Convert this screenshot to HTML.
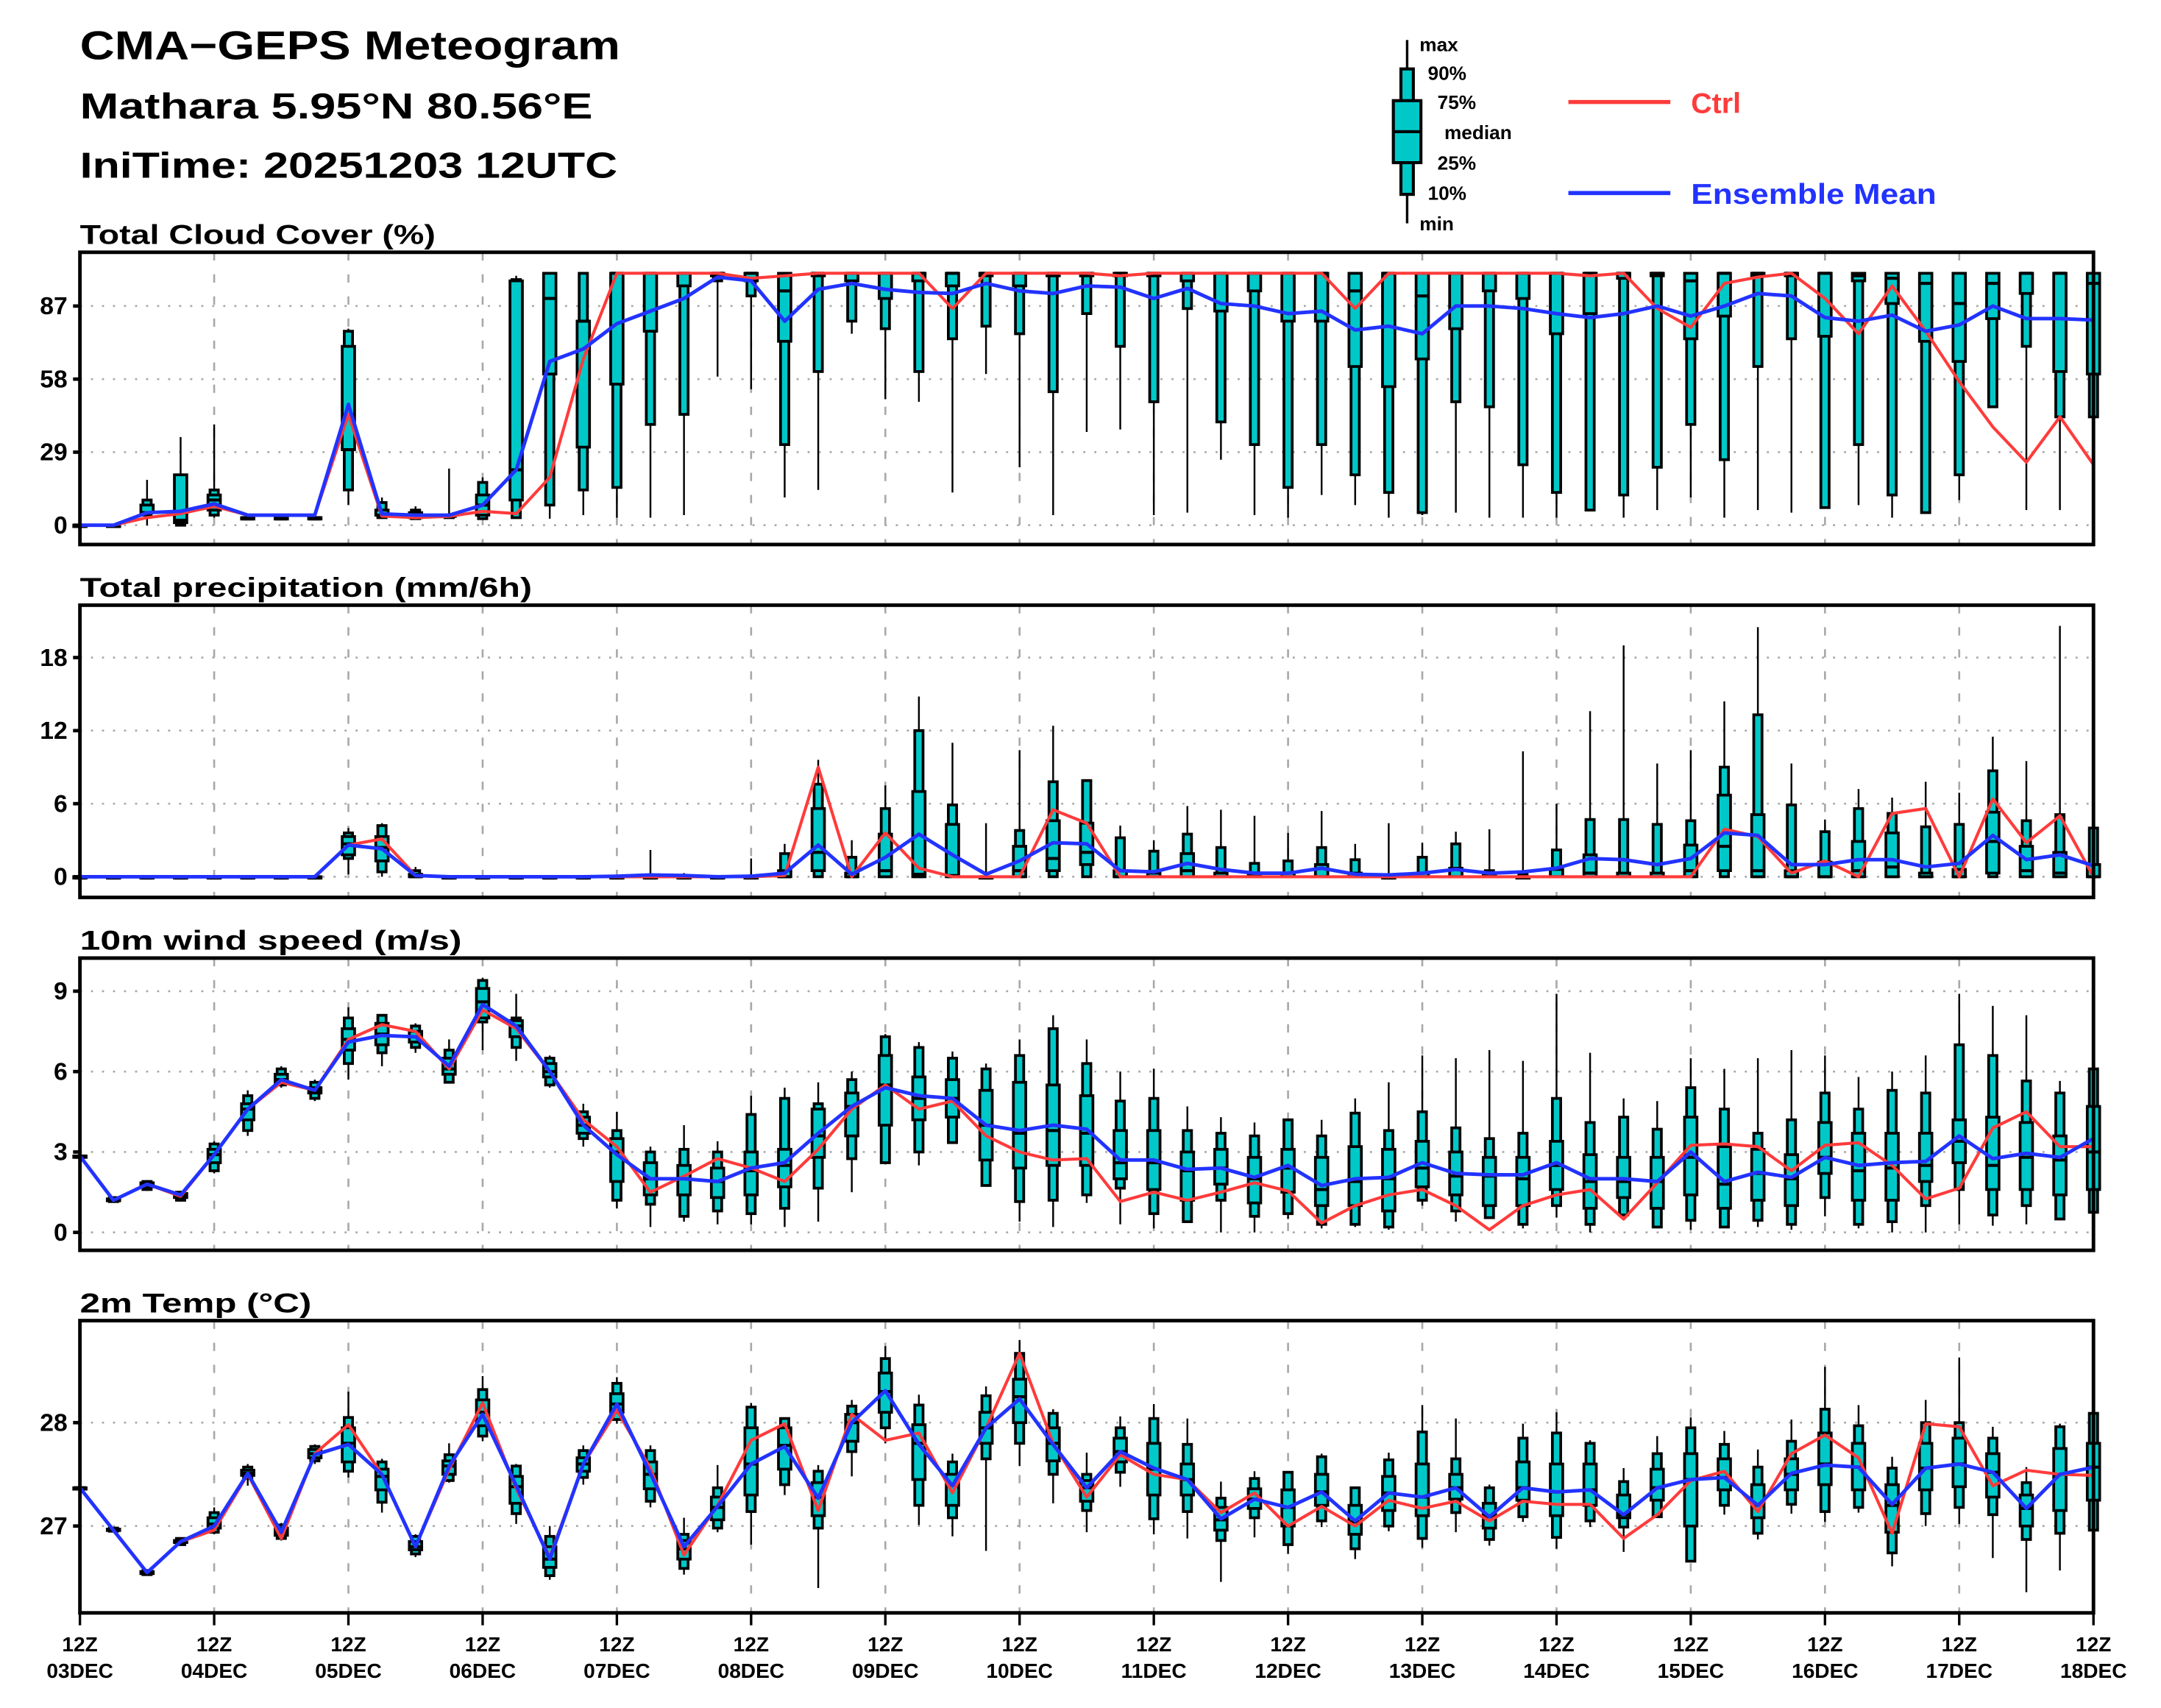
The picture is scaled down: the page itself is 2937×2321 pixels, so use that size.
<!DOCTYPE html>
<html><head><meta charset="utf-8"><title>CMA-GEPS Meteogram</title>
<style>html,body{margin:0;padding:0;background:#fff}svg{display:block}text{font-family:"Liberation Sans",sans-serif;font-weight:bold}</style>
</head><body>
<svg id="chart" xmlns="http://www.w3.org/2000/svg" width="2937" height="2321" viewBox="0 0 1568 1239" preserveAspectRatio="none">
<rect x="0" y="0" width="1568" height="1239" fill="#fff"/>
<g>
<text x="58" y="43" font-size="29" font-weight="normal" textLength="392" lengthAdjust="spacingAndGlyphs">CMA−GEPS Meteogram</text>
<text x="58" y="86" font-size="26" font-weight="normal" textLength="372" lengthAdjust="spacingAndGlyphs">Mathara 5.95°N 80.56°E</text>
<text x="58" y="129" font-size="26" font-weight="normal" textLength="390" lengthAdjust="spacingAndGlyphs">IniTime: 20251203 12UTC</text>
</g>
<g>
<line x1="1021" y1="29" x2="1021" y2="162" stroke="#000" stroke-width="1.8"/>
<rect x="1016.5" y="50" width="9" height="91" fill="#00c8c8" stroke="#000" stroke-width="2.2"/>
<rect x="1011" y="73" width="20" height="45" fill="#00c8c8" stroke="#000" stroke-width="2.2"/>
<line x1="1011" y1="95.5" x2="1031" y2="95.5" stroke="#000" stroke-width="2.2"/>
<g font-size="14">
<text x="1030" y="37">max</text>
<text x="1036" y="58">90%</text>
<text x="1043" y="79">75%</text>
<text x="1048" y="101">median</text>
<text x="1043" y="123">25%</text>
<text x="1036" y="145">10%</text>
<text x="1030" y="167">min</text>
</g>
<line x1="1138" y1="74" x2="1212" y2="74" stroke="#ff3b3b" stroke-width="3"/>
<text x="1227" y="82" font-size="21" font-weight="normal" fill="#ff3b3b">Ctrl</text>
<line x1="1138" y1="140" x2="1212" y2="140" stroke="#2233ff" stroke-width="3"/>
<text x="1227" y="148" font-size="21" font-weight="normal" fill="#2233ff" textLength="178" lengthAdjust="spacingAndGlyphs">Ensemble Mean</text>
</g>
<g id="panels"></g>
</svg>
<script>
const NS = "http://www.w3.org/2000/svg";
const dayLabels = ["03DEC","04DEC","05DEC","06DEC","07DEC","08DEC","09DEC","10DEC","11DEC","12DEC","13DEC","14DEC","15DEC","16DEC","17DEC","18DEC"];

// ---- Panel 1: Total Cloud Cover (%) ----
const cloudTicks = [0,29,58,87];
const cloudMin = [0,0,0,0,3,3,3,3,8,3,2.6,3,2.6,3,2.6,4,3,3,4,59,54,11,14,76,50,49,13,60,23,4,37,38,4,5,26,4,3,12,8,3,4,5,3,3,3,6,3,6,11,3,6,5,7,8,3,5,10,47,6,6,43];
const cloudP10 = [0,0,4,0,4,3,3,3,14,3,2.6,3,2.6,3,8,14,15,40,44,97,91,32,61,81,78,61,74,79,76,53,84,71,49,86,41,32,15,32,20,13,5,49,47,24,13,6,12,23,40,26,63,74,7,32,12,5,20,47,71,43,43];
const cloudP25 = [0,0,5,1,6,3,3,3,30,4,3,3.5,4,10,60,31,56,77,95,99,97,73,99,97,90,97,95,99,95,99,99,99,99,97,85,93,81,81,63,55,66,78,93,90,76,84,98,99,74,83,99,99,75,97,88,73,65,82,92,61,60];
const cloudMed = [0,0,5,2,10,3,3,3,30,4,3,3.5,8,22,90,81,100,100,100,100,100,93,100,100,100,100,100,100,100,100,100,100,100,100,100,100,100,100,93,100,91,100,100,100,100,100,100,100,97,100,100,100,100,99,98,96,88,96,100,100,96];
const cloudP75 = [0,0,8,20,12,3,3,3,71,6,5,4,12,97,100,81,100,100,100,100,100,100,100,100,100,100,100,100,100,100,100,100,100,100,100,100,100,100,100,100,100,100,100,100,100,100,100,100,100,100,100,100,100,100,100,100,100,100,100,100,100];
const cloudP90 = [0,0,10,20,14,3,3,3,77,9,6,4,17,97.5,100,100,100,100,100,100,100,100,100,100,100,100,100,100,100,100,100,100,100,100,100,100,100,100,100,100,100,100,100,100,100,100,100,100,100,100,100,100,100,100,100,100,100,100,100,100,100];
const cloudMax = [0,0,18,35,40,4,4,4,78,11,7.5,22.5,19,99,100,100,100,100,100,100,100,100,100,100,100,100,100,100,100,100,100,100,100,100,100,100,100,100,100,100,100,100,100,100,100,100,100,100,100,100,100,100,100,100,100,100,100,100,100,100,100];
const cloudCtrl = [0,0,3,4.6,7.5,4,4,4,44,3.6,3,3.5,5.5,4.6,19,66,100,100,100,100,98,99,100,100,100,100,86,100,100,100,100,99,100,100,100,100,100,100,86,100,100,100,100,100,100,99,100,86,78.5,96,98.5,100,90,76,95,77,57,39,25,43,24];
const cloudMean = [0,0,5,5.5,8.5,4,4,4,48,4.5,4,4,8,22,65,70,80,85,90,98.5,97,81,93.6,96,93.6,92.4,92,96,93,92,95,94.5,90,94,88,87,84,85,77.5,79,76,87,87,86,84,82.4,84,87,83,87,92,91,82.4,81,83.4,77,79.5,87,82,82,81.4];

// ---- Panel 2: Total precipitation (mm/6h) ----
const precipTicks = [0,6,12,18];
const precipMin = [0,0,0,0,0,0,0,0,0.2,0,0,0,0,0,0,0,0,0,0,0,0,0,0,0,0,0,0,0,0,0,0,0,0,0,0,0,0,0,0,0,0,0,0,0,0,0,0,0,0,0,0,0,0,0,0,0,0,0,0,0,0];
const precipP10 = [0,0,0,0,0,0,0,0,1.5,0.4,0,0,0,0,0,0,0,0,0,0,0,0,0,0,0,0,0,0,0,0,0,0,0,0,0,0,0,0,0,0,0,0,0,0,0,0,0,0,0,0,0,0,0,0,0,0,0,0,0,0,0];
const precipP25 = [0,0,0,0,0,0,0,0,1.8,1.3,0,0,0,0,0,0,0,0,0,0,0,0,0.5,0,0,0,0,0,0,0.5,1,0,0,0,0,0,0,0,0,0,0,0,0,0,0,0,0,0,0,0.5,0,0,0,0,0,0,0,0.3,0,0,0];
const precipMed = [0,0,0,0,0,0,0,0,2.7,2.4,0,0,0,0,0,0,0,0,0,0,0,0,2,0,0.5,0.2,0.1,0,0.5,1.5,2,0,0,0.5,0,0,0,0,0,0,0,0,0,0,0,0.3,0,0,0.5,2.5,0.5,0,0,0.5,0.8,0,0,2.9,0.5,0.3,0];
const precipP75 = [0,0,0,0,0,0,0,0,3.3,3.3,0.2,0,0,0,0,0,0,0,0,0,0,0.5,5.6,0.3,3.5,7,4.3,0,2.5,4.6,4.4,0.5,0.3,1.9,0.3,0.2,0.3,1,0.3,0,0.3,0.7,0.1,0,0.6,1.8,0.3,0.3,2.6,6.7,5.1,0.5,1.2,2.9,3.6,0.3,0.6,5.3,2.5,2,1];
const precipP90 = [0,0,0,0,0,0,0,0,3.6,4.2,0.5,0,0,0,0,0,0,0,0,0,0,1.9,7.6,1.6,5.6,12,5.9,0,3.8,7.8,7.9,3.2,2.1,3.5,2.4,1.1,1.3,2.4,1.4,0,1.6,2.7,0.5,0.2,2.2,4.7,4.7,4.3,4.6,9,13.3,5.9,3.7,5.6,5.2,4.1,4.3,8.7,4.6,5.1,4];
const precipMax = [0,0,0,0,0,0,0,0,4,4.4,0.8,0,0,0,0,0,0,2.2,0.3,0,1.5,2.7,9.6,3,7.5,14.8,11,4.4,10.4,12.4,7.9,4.2,3,5.8,5.5,5,3.6,5.4,2.7,4.4,2.8,3.7,3.9,10.3,6,13.6,19,9.3,10.4,14.4,20.5,9.3,4.7,7.2,6.5,7.8,6.9,11.5,9.5,20.6,4];
const precipCtrl = [0,0,0,0,0,0,0,0,2.6,3.1,0.1,0,0,0,0,0,0,0,0,0,0,0.1,9,0,3.6,0.7,0,0,0,5.5,4.4,0,0,0,0,0,0,0,0,0,0,0,0,0,0,0,0,0,0,3.9,3.3,0.3,1.3,0,5.2,5.6,0,6.4,2.8,5,0];
const precipMean = [0,0,0,0,0,0,0,0,2.6,2.3,0.1,0,0,0,0,0,0.05,0.15,0.1,0,0.05,0.3,2.6,0.2,1.6,3.5,1.8,0.2,1.3,2.8,2.7,0.5,0.4,1.1,0.6,0.3,0.3,0.7,0.2,0.15,0.3,0.6,0.3,0.4,0.7,1.5,1.4,1.0,1.5,3.6,3.4,1.0,1.0,1.4,1.4,0.8,1.1,3.4,1.4,1.8,0.9];

// ---- Panel 3: 10m wind speed (m/s) ----
const windTicks = [0,3,6,9];
const windMin = [2.85,1.1,1.55,1.15,2.2,3.6,5.4,4.9,5.7,6.2,6.7,5.6,6.8,6.4,5.4,3.2,0.9,0.2,0.4,0.3,0.3,0.2,0.4,1.5,2.6,2.5,3.35,1.75,0.4,0.2,1.1,0.3,0.15,0.4,0,0,0.5,0.15,0.2,0.1,1.0,0.4,0.55,0.15,0.55,0,0.65,0.15,0.1,0.2,0.2,0.1,0.6,0.15,0,0,0.3,0.25,0.3,0.45,0.75];
const windP10 = [2.85,1.15,1.6,1.2,2.3,3.8,5.5,5.0,6.3,6.7,6.9,5.6,7.85,6.9,5.5,3.5,1.2,1.05,0.6,0.8,0.7,0.9,1.65,2.75,2.6,3.0,3.35,1.75,1.15,1.2,1.4,1.65,0.7,0.4,1.2,0.6,0.7,0.3,0.3,0.2,1.2,0.8,0.55,0.3,1.0,0.3,0.65,0.2,0.45,0.2,0.45,0.3,1.3,0.3,0.4,1.0,1.6,0.65,1.0,0.5,0.75];
const windP25 = [2.85,1.18,1.7,1.3,2.6,4.2,5.6,5.2,6.8,7.0,7.1,5.9,8.0,7.3,5.8,3.7,1.9,1.4,1.4,1.3,1.4,1.7,2.8,3.6,4.0,4.2,4.3,2.7,2.4,2.5,2.5,2.0,1.6,1.2,1.8,1.1,1.5,1.0,1.0,0.8,1.7,1.4,1.0,1.0,1.6,0.9,1.3,0.9,1.4,0.9,1.2,1.0,2.2,1.2,1.2,1.9,2.6,1.6,1.6,1.4,1.6];
const windMed = [2.85,1.2,1.8,1.4,2.9,4.6,5.7,5.3,7.2,7.4,7.3,6.1,8.6,7.7,6.0,4.0,3.0,2.0,2.0,1.9,2.3,2.5,3.6,4.7,5.5,5.0,5.0,4.0,3.7,3.8,3.7,2.6,2.6,2.3,2.4,2.0,2.4,1.6,1.9,2.0,2.4,2.1,2.1,2.0,2.5,1.9,1.9,1.9,2.8,1.8,2.2,2.0,2.8,2.3,2.4,2.5,3.4,2.5,2.8,2.7,3.0];
const windP75 = [2.85,1.25,1.85,1.45,3.1,4.8,5.9,5.4,7.6,7.8,7.5,6.5,9.1,7.9,6.3,4.3,3.5,2.6,2.5,2.4,3.0,3.1,4.6,5.2,6.6,5.8,5.7,5.3,5.6,5.5,5.1,3.8,3.8,3.0,3.1,2.8,3.1,2.8,3.2,3.1,3.4,3.0,2.8,2.8,3.4,2.9,2.8,2.8,4.3,3.2,3.1,2.9,4.1,3.7,3.7,3.7,4.2,4.3,4.1,3.6,4.7];
const windP90 = [2.85,1.3,1.9,1.5,3.3,5.1,6.1,5.6,8.0,8.1,7.7,6.8,9.4,8.0,6.5,4.5,3.8,3.0,3.1,3.0,4.4,5.0,4.8,5.7,7.3,6.9,6.5,6.1,6.6,7.6,6.3,4.9,5.0,3.8,3.7,3.6,4.2,3.6,4.45,3.8,4.5,3.9,3.5,3.7,5.0,4.1,4.3,3.85,5.4,4.6,3.7,4.2,5.2,4.6,5.3,5.2,7.0,6.6,5.65,5.2,6.1];
const windMax = [2.85,1.35,1.95,1.55,3.4,5.3,6.2,5.7,8.4,8.1,7.8,7.2,9.5,8.9,6.6,4.8,4.5,3.2,4.0,3.4,5.1,5.4,5.6,6.0,7.4,7.1,6.75,6.3,7.2,8.1,7.2,6.0,6.1,4.7,4.3,4.1,4.2,4.2,5.0,5.6,6.6,6.5,6.8,6.4,8.9,6.7,5.0,4.9,6.5,6.1,6.5,6.8,6.6,5.8,6.0,6.6,8.9,8.45,8.1,5.65,6.1];
const windCtrl = [2.85,1.2,1.8,1.35,2.9,4.6,5.6,5.3,7.2,7.75,7.5,6.1,8.3,7.6,6.0,4.2,3.2,1.5,2.1,2.75,2.4,1.9,3.1,4.6,5.5,4.6,4.9,3.6,3.0,2.7,2.75,1.15,1.5,1.2,1.5,1.85,1.55,0.35,1.0,1.4,1.6,1.0,0.1,1.0,1.4,1.6,0.5,1.85,3.25,3.3,3.2,2.3,3.25,3.35,2.5,1.25,1.65,3.9,4.5,3.2,3.2];
const windMean = [2.85,1.2,1.8,1.4,2.9,4.6,5.7,5.3,7.1,7.35,7.3,6.2,8.5,7.7,6.0,4.0,2.9,2.0,2.0,1.9,2.4,2.6,3.7,4.7,5.4,5.1,5.0,4.0,3.8,4.0,3.85,2.7,2.7,2.35,2.4,2.05,2.5,1.75,2.0,2.05,2.6,2.2,2.15,2.15,2.6,2.0,2.0,1.9,3.0,1.9,2.25,2.05,2.8,2.5,2.6,2.65,3.6,2.75,2.95,2.8,3.5];

// ---- Panel 4: 2m Temp (°C) ----
const tempTicks = [27,28];
const tempMin = [27.37,26.94,26.52,26.81,26.92,27.39,26.86,27.6,27.47,27.13,26.7,27.42,27.82,27.02,26.48,27.4,27.99,27.18,26.53,26.94,26.82,27.3,26.4,27.48,27.8,27.01,26.9,26.76,27.58,27.22,26.94,27.38,26.92,26.88,26.46,26.89,26.73,26.99,26.68,26.95,26.79,26.94,26.81,27.04,26.78,26.99,26.75,27.09,26.79,27.11,26.87,27.12,27.04,27.13,26.61,27.0,27.02,26.69,26.36,26.57,26.96];
const tempP10 = [27.37,26.95,26.53,26.82,26.94,27.46,26.88,27.63,27.53,27.23,26.73,27.44,27.87,27.12,26.52,27.47,28.03,27.24,26.59,26.98,27.14,27.4,26.98,27.72,27.95,27.2,27.08,27.65,27.8,27.5,27.15,27.52,27.07,27.14,26.86,27.08,26.82,27.05,26.78,27.0,26.88,27.13,26.87,27.09,26.89,27.05,26.99,27.09,26.66,27.2,26.93,27.21,27.14,27.18,26.74,27.12,27.18,27.11,26.87,26.93,26.96];
const tempP25 = [27.37,26.96,26.54,26.84,26.98,27.49,26.91,27.66,27.62,27.35,26.77,27.5,27.97,27.22,26.6,27.53,28.1,27.36,26.68,27.06,27.3,27.55,27.1,27.82,28.1,27.45,27.2,27.8,28.0,27.63,27.24,27.62,27.3,27.3,26.96,27.17,27.0,27.2,26.92,27.15,27.1,27.26,26.98,27.25,27.1,27.2,27.08,27.25,27.0,27.35,27.08,27.35,27.4,27.35,26.94,27.35,27.38,27.28,27.0,27.15,27.25];
const tempMed = [27.37,26.96,26.55,26.85,27.02,27.51,26.94,27.7,27.8,27.48,26.8,27.58,28.1,27.38,26.68,27.6,28.18,27.5,26.78,27.18,27.6,27.78,27.28,28.0,28.3,27.8,27.4,27.95,28.25,27.8,27.37,27.72,27.55,27.45,27.06,27.26,27.18,27.33,27.04,27.32,27.28,27.37,27.09,27.37,27.33,27.35,27.11,27.37,27.45,27.47,27.2,27.5,27.6,27.57,27.2,27.56,27.6,27.52,27.17,27.5,27.57];
const tempP75 = [27.37,26.97,26.56,26.86,27.08,27.54,26.98,27.74,27.95,27.55,26.85,27.63,28.22,27.48,26.8,27.66,28.28,27.62,26.86,27.28,27.95,27.95,27.42,28.08,28.48,27.98,27.5,28.1,28.42,27.95,27.44,27.85,27.8,27.6,27.18,27.36,27.35,27.5,27.2,27.48,27.6,27.5,27.22,27.62,27.6,27.6,27.3,27.55,27.7,27.65,27.4,27.65,27.9,27.8,27.4,27.8,27.85,27.7,27.3,27.75,27.8];
const tempP90 = [27.37,26.98,26.57,26.88,27.13,27.57,27.01,27.77,28.05,27.62,26.9,27.69,28.32,27.58,26.9,27.73,28.38,27.73,26.92,27.37,28.15,28.04,27.53,28.16,28.62,28.17,27.62,28.26,28.67,28.09,27.5,27.95,28.04,27.79,27.27,27.46,27.52,27.67,27.37,27.64,27.91,27.65,27.37,27.85,27.9,27.8,27.43,27.7,27.95,27.79,27.57,27.82,28.13,27.97,27.56,28.0,28.0,27.85,27.42,27.96,28.09];
const tempMax = [27.37,26.99,26.58,26.89,27.18,27.6,27.03,27.79,28.3,27.65,26.92,27.8,28.45,27.6,27.0,27.78,28.44,27.78,27.08,27.59,28.19,28.05,27.59,28.22,28.74,28.27,27.7,28.35,28.8,28.13,27.71,28.06,28.18,28.04,27.43,27.53,27.52,27.7,27.38,27.71,28.17,28.04,27.4,27.99,28.1,27.83,27.56,27.87,28.05,27.92,27.74,28.03,28.54,28.17,27.67,28.22,28.63,27.96,27.57,27.99,28.09];
const tempCtrl = [27.37,26.96,26.55,26.85,26.96,27.5,26.88,27.7,27.98,27.5,26.8,27.55,28.19,27.36,26.7,27.6,28.12,27.56,26.72,27.2,27.83,27.99,27.15,28.08,27.83,27.9,27.32,27.95,28.67,27.8,27.28,27.69,27.5,27.45,27.13,27.32,27.0,27.19,27.0,27.25,27.17,27.24,27.05,27.24,27.21,27.21,26.88,27.11,27.44,27.53,27.14,27.7,27.88,27.66,26.93,27.99,27.96,27.39,27.54,27.5,27.49];
const tempMean = [27.37,26.96,26.55,26.85,27.0,27.51,26.94,27.69,27.79,27.5,26.8,27.58,28.08,27.39,26.68,27.6,28.18,27.51,26.8,27.19,27.6,27.77,27.27,28.0,28.31,27.79,27.39,27.95,28.23,27.79,27.37,27.72,27.56,27.45,27.07,27.26,27.18,27.33,27.05,27.32,27.28,27.37,27.09,27.37,27.33,27.35,27.11,27.37,27.45,27.47,27.2,27.51,27.59,27.57,27.21,27.56,27.6,27.52,27.17,27.5,27.57];

const X0 = 58, X1 = 1519, NSTEP = 60;
function xOf(i){ return X0 + (X1 - X0) * i / NSTEP; }

const panels = [
  {key:"cloud", title:"Total Cloud Cover (%)", titleW:258, top:183, bot:395, v0:0, y0:381, v1:87, y1:222,
   ticks:cloudTicks, s:[cloudMin,cloudP10,cloudP25,cloudMed,cloudP75,cloudP90,cloudMax], ctrl:cloudCtrl, mean:cloudMean},
  {key:"precip", title:"Total precipitation (mm/6h)", titleW:328, top:439, bot:651, v0:0, y0:636, v1:18, y1:477,
   ticks:precipTicks, s:[precipMin,precipP10,precipP25,precipMed,precipP75,precipP90,precipMax], ctrl:precipCtrl, mean:precipMean},
  {key:"wind", title:"10m wind speed (m/s)", titleW:277, top:695, bot:907, v0:0, y0:894, v1:9, y1:719,
   ticks:windTicks, s:[windMin,windP10,windP25,windMed,windP75,windP90,windMax], ctrl:windCtrl, mean:windMean},
  {key:"temp", title:"2m Temp (°C)", titleW:168, top:958, bot:1170, v0:27, y0:1107, v1:28, y1:1032,
   ticks:tempTicks, s:[tempMin,tempP10,tempP25,tempMed,tempP75,tempP90,tempMax], ctrl:tempCtrl, mean:tempMean}
];

const root = document.getElementById("panels");
function mk(tag, attrs, parent){
  const el = document.createElementNS(NS, tag);
  for (const k in attrs) el.setAttribute(k, attrs[k]);
  (parent || root).appendChild(el);
  return el;
}

panels.forEach(function(p, pi){
  const yOf = function(v){ return p.y0 + (v - p.v0) * (p.y1 - p.y0) / (p.v1 - p.v0); };
  const g = mk("g", {});
  
  

  const t = mk("text", {x:58, y:p.top - 6, "font-size":20, "font-weight":"normal", textLength:p.titleW, lengthAdjust:"spacingAndGlyphs"}, g);
  t.textContent = p.title;
  
  

  for (let d = 1; d < 15; d++) {
    const x = xOf(d * 4);
    const gl = mk("line", {x1:x, y1:p.top, x2:x, y2:p.bot, stroke:"#a8a8a8", "stroke-width":1.4, "stroke-dasharray":"6 10"}, g);
    
    
  }
  p.ticks.forEach(function(tv){
    const y = yOf(tv);
    const hl = mk("line", {x1:X0, y1:y, x2:X1, y2:y, stroke:"#a8a8a8", "stroke-width":1.4, "stroke-dasharray":"1.5 6.5"}, g);
    
    
    const tk = mk("line", {x1:X0 - 5, y1:y, x2:X0, y2:y, stroke:"#000", "stroke-width":2.5}, g);
    
    
    const lb = mk("text", {x:X0 - 9, y:y + 6, "font-size":18, "text-anchor":"end"}, g);
    lb.textContent = String(tv);
    
    
  });

  for (let i = 0; i <= NSTEP; i++) {
    const x = xOf(i);
    const mn = p.s[0][i], q10 = p.s[1][i], q25 = p.s[2][i], md = p.s[3][i], q75 = p.s[4][i], q90 = p.s[5][i], mx = p.s[6][i];
    const bg = mk("g", {}, g);
    
    
    mk("line", {x1:x, y1:yOf(mx), x2:x, y2:yOf(mn), stroke:"#000", "stroke-width":1.3}, bg);
    const yA = yOf(q90), yB = yOf(q10);
    mk("rect", {x:x - 3, y:Math.min(yA,yB), width:6, height:Math.max(Math.abs(yB - yA), 1), fill:"#00c8c8", stroke:"#000", "stroke-width":2}, bg);
    const yC = yOf(q75), yD = yOf(q25);
    mk("rect", {x:x - 4.5, y:Math.min(yC,yD), width:9, height:Math.max(Math.abs(yD - yC), 1), fill:"#00c8c8", stroke:"#000", "stroke-width":2}, bg);
    mk("line", {x1:x - 4.5, y1:yOf(md), x2:x + 4.5, y2:yOf(md), stroke:"#000", "stroke-width":2.2}, bg);
  }

  const ptsC = p.ctrl.map(function(v, i){ return xOf(i).toFixed(1) + "," + yOf(v).toFixed(1); }).join(" ");
  const lc = mk("polyline", {points:ptsC, fill:"none", stroke:"#ff3b3b", "stroke-width":2.2, "stroke-linejoin":"round"}, g);
  
  
  const ptsM = p.mean.map(function(v, i){ return xOf(i).toFixed(1) + "," + yOf(v).toFixed(1); }).join(" ");
  const lm = mk("polyline", {points:ptsM, fill:"none", stroke:"#2233ff", "stroke-width":2.6, "stroke-linejoin":"round"}, g);
  
  

  const fr = mk("rect", {x:X0, y:p.top, width:X1 - X0, height:p.bot - p.top, fill:"none", stroke:"#000", "stroke-width":2.6}, g);
  
  
});

for (let d = 0; d <= 15; d++) {
  const x = xOf(d * 4);
  const tk = mk("line", {x1:x, y1:1170, x2:x, y2:1179, stroke:"#000", "stroke-width":1.8});
  
  
  const t1 = mk("text", {x:x, y:1198, "font-size":15, "text-anchor":"middle"});
  t1.textContent = "12Z";
  
  
  const t2 = mk("text", {x:x, y:1217, "font-size":15, "text-anchor":"middle"});
  t2.textContent = dayLabels[d];
  
  
}
</script>
</body></html>
